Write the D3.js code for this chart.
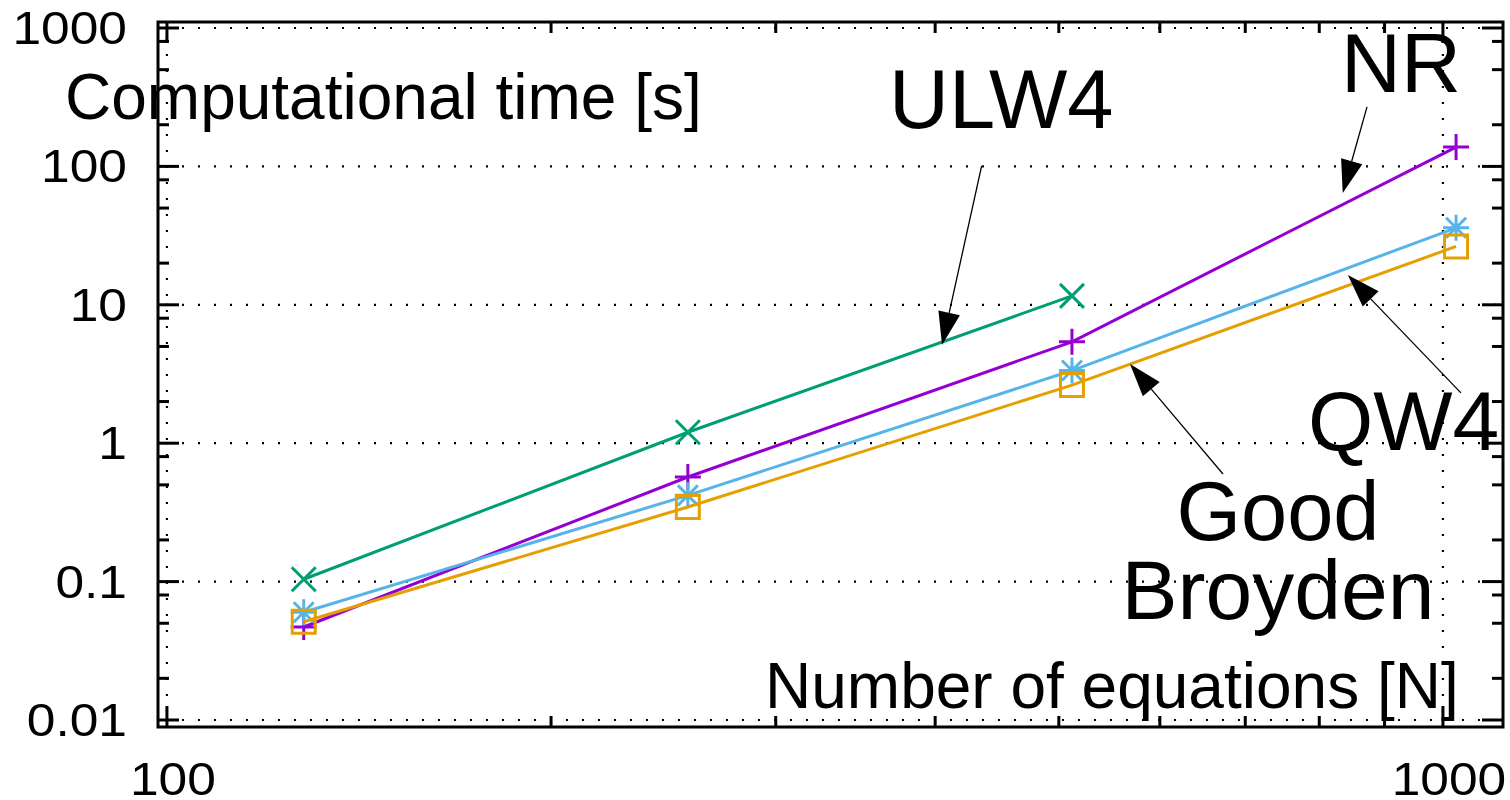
<!DOCTYPE html>
<html>
<head>
<meta charset="utf-8">
<script src="https://cdn.jsdelivr.net/npm/d3@7"></script>
<style>
  html, body { margin: 0; padding: 0; background: #fff; }
  svg { display: block; font-family: "Liberation Sans", Arial, sans-serif; }
</style>
</head>
<body>
<svg id="chart" width="1510" height="800"></svg>
<script>
// Problem sizes (number of equations)
const sizes = [128, 256, 512, 1024];

// Computational time [s] per solver
const ulw4 = [0.104, 1.2, 11.6];
const nr = [0.047, 0.57, 5.4, 138];
const qw4 = [0.060, 0.42, 3.35, 36];
const goodBroyden = [0.0513, 0.346, 2.63, 26.4];

// Tick values
const xMajor = [100, 1000];
const xMinor = [200, 300, 400, 500, 600, 700, 800, 900];
const yMajor = [0.01, 0.1, 1, 10, 100, 1000];
const yMinor = [0.02, 0.05, 0.08, 0.2, 0.5, 0.8, 2, 5, 8, 20, 50, 80, 200, 500, 800];
const xTickLabels = ["100", "1000"];
const yTickLabels = ["0.01", "0.1", "1", "10", "100", "1000"];

const svg = d3.select("#chart");
const plotLeft = 158, plotRight = 1503, plotTop = 22, plotBottom = 727;

const x = d3.scaleLog().domain([98.4, 1114.5]).range([plotLeft, plotRight]);
const y = d3.scaleLog().domain([0.0089, 1105]).range([plotBottom, plotTop]);

// Dotted grid on major ticks
const grid = svg.append("g")
  .attr("stroke", "#000").attr("stroke-width", 2.2)
  .attr("stroke-dasharray", "2,14");
grid.append("g").selectAll("line").data(yMajor).join("line")
  .attr("x1", plotLeft + 8).attr("x2", plotRight)
  .attr("y1", d => y(d)).attr("y2", d => y(d));
grid.append("g").selectAll("line").data(xMajor).join("line")
  .attr("y1", plotTop).attr("y2", plotBottom - 8)
  .attr("x1", d => x(d)).attr("x2", d => x(d));

// Inward ticks on all four sides
const ticks = svg.append("g").attr("stroke", "#000").attr("stroke-width", 3);
const majLen = 21, minLen = 11;
function yTicks(vals, len) {
  ticks.append("g").selectAll("line").data(vals).join("line")
    .attr("x1", plotLeft).attr("x2", plotLeft + len)
    .attr("y1", d => y(d)).attr("y2", d => y(d));
  ticks.append("g").selectAll("line").data(vals).join("line")
    .attr("x1", plotRight).attr("x2", plotRight - len)
    .attr("y1", d => y(d)).attr("y2", d => y(d));
}
function xTicks(vals, len) {
  ticks.append("g").selectAll("line").data(vals).join("line")
    .attr("y1", plotBottom).attr("y2", plotBottom - len)
    .attr("x1", d => x(d)).attr("x2", d => x(d));
  ticks.append("g").selectAll("line").data(vals).join("line")
    .attr("y1", plotTop).attr("y2", plotTop + len)
    .attr("x1", d => x(d)).attr("x2", d => x(d));
}
yTicks(yMajor, majLen); yTicks(yMinor, minLen);
xTicks(xMajor, majLen); xTicks(xMinor, minLen);

// Frame
svg.append("rect")
  .attr("x", plotLeft).attr("y", plotTop)
  .attr("width", plotRight - plotLeft).attr("height", plotBottom - plotTop)
  .attr("fill", "none").attr("stroke", "#000").attr("stroke-width", 3);

// Tick labels (digits set slightly wide)
const stretch = 1.12;
svg.append("g").selectAll("text").data(yMajor).join("text")
  .attr("transform", d => `translate(127,${y(d) + 16}) scale(${stretch},1)`)
  .attr("text-anchor", "end")
  .attr("font-size", 46)
  .text((d, i) => yTickLabels[i]);
svg.append("g").selectAll("text").data(xMajor).join("text")
  .attr("transform", d => `translate(${x(d) + 6},795) scale(${stretch},1)`)
  .attr("text-anchor", "middle")
  .attr("font-size", 46)
  .text((d, i) => xTickLabels[i]);

// Series
const series = [
  { name: "ULW4", values: ulw4, color: "#009e73", marker: "x" },
  { name: "NR", values: nr, color: "#9400d3", marker: "plus" },
  { name: "QW4", values: qw4, color: "#56b4e9", marker: "star" },
  { name: "Good Broyden", values: goodBroyden, color: "#e69f00", marker: "square" }
];

const line = d3.line().x(d => x(d[0])).y(d => y(d[1]));

function markerPath(type) {
  const r = 13, s = 11.5, d = 10, dx = 12;
  if (type === "x") return `M${-dx},${-dx}L${dx},${dx}M${-dx},${dx}L${dx},${-dx}`;
  if (type === "plus") return `M${-r},0L${r},0M0,${-r}L0,${r}`;
  if (type === "star") return `M${-r},0L${r},0M0,${-r}L0,${r}M${-d},${-d}L${d},${d}M${-d},${d}L${d},${-d}`;
  return `M${-s},${-s}H${s}V${s}H${-s}Z`;
}

series.forEach(s => {
  const pts = s.values.map((v, i) => [sizes[i], v]);
  const g = svg.append("g");
  g.append("path").datum(pts)
    .attr("d", line)
    .attr("fill", "none").attr("stroke", s.color).attr("stroke-width", 3);
  g.selectAll("path.m").data(pts).join("path")
    .attr("class", "m")
    .attr("transform", d => `translate(${x(d[0])},${y(d[1])})`)
    .attr("d", markerPath(s.marker))
    .attr("fill", "none").attr("stroke", s.color).attr("stroke-width", 3);
});

// Annotation arrows (data coordinates: from -> to)
const arrows = [
  { from: [435, 100.7], to: [405, 5.12] },
  { from: [872, 269], to: [834.6, 64.2] },
  { from: [1033, 2.31], to: [842.3, 16.4] },
  { from: [672.4, 0.599], to: [568.5, 3.74] }
];
const headLen = 33, headHalf = 11;
const ag = svg.append("g");
arrows.forEach(a => {
  const x1 = x(a.from[0]), y1 = y(a.from[1]);
  const x2 = x(a.to[0]), y2 = y(a.to[1]);
  const ang = Math.atan2(y2 - y1, x2 - x1);
  const bx = x2 - headLen * Math.cos(ang), by = y2 - headLen * Math.sin(ang);
  ag.append("line")
    .attr("x1", x1).attr("y1", y1).attr("x2", bx).attr("y2", by)
    .attr("stroke", "#000").attr("stroke-width", 1.3);
  const px = -Math.sin(ang) * headHalf, py = Math.cos(ang) * headHalf;
  ag.append("path")
    .attr("d", `M${x2},${y2}L${bx + px},${by + py}L${bx - px},${by - py}Z`)
    .attr("fill", "#000");
});

// Axis titles and series labels
const labels = [
  { text: "Computational time [s]", x: 65, y: 119, size: 64, anchor: "start" },
  { text: "Number of equations [N]", x: 765, y: 708, size: 64, anchor: "start" },
  { text: "ULW4", x: 889, y: 128, size: 83, anchor: "start" },
  { text: "NR", x: 1341, y: 92, size: 83, anchor: "start" },
  { text: "QW4", x: 1308, y: 450, size: 84, anchor: "start" },
  { text: "Good", x: 1278, y: 540, size: 83, anchor: "middle" },
  { text: "Broyden", x: 1278, y: 619, size: 84, anchor: "middle" }
];
svg.append("g").selectAll("text").data(labels).join("text")
  .attr("x", d => d.x).attr("y", d => d.y)
  .attr("font-size", d => d.size)
  .attr("text-anchor", d => d.anchor)
  .text(d => d.text);
</script>
</body>
</html>
